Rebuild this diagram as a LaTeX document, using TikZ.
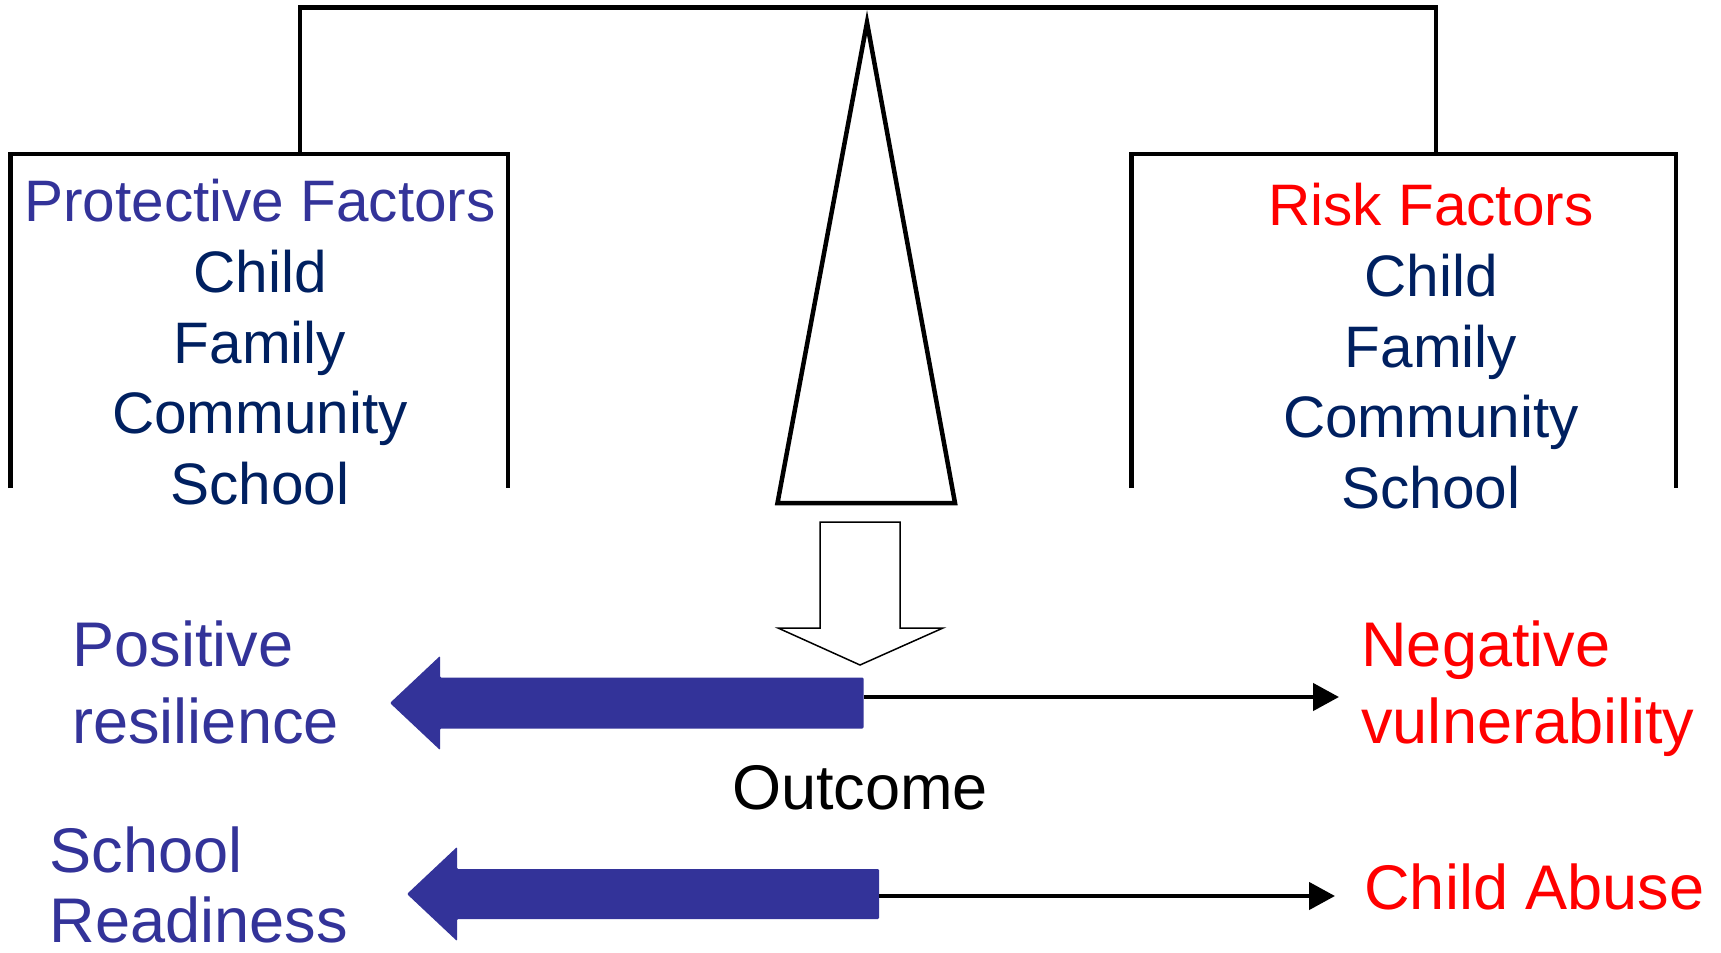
\documentclass[tikz,border=0pt]{standalone}
\usepackage{fontspec}
\setmainfont{Liberation Sans}
\usetikzlibrary{arrows.meta, positioning}

\definecolor{factorblue}{RGB}{51,51,153}
\definecolor{factornavy}{RGB}{0,32,96}
\definecolor{riskred}{RGB}{255,0,0}

\begin{document}
\begin{tikzpicture}[
  frame/.style={line width=0.09cm, black},
  head/.style={font=\fontsize{33.3}{40}\selectfont, inner sep=0pt, anchor=base},
  factor/.style={head, text=factornavy},
  result/.style={font=\fontsize{35.9}{43}\selectfont, inner sep=0pt, anchor=base west},
  bigarrow/.style={fill=factorblue, draw=none, rounded corners=0.6pt},
  thinarrow/.style={-{Triangle[length=0.52cm, width=0.54cm]}, line width=0.09cm},
]
\useasboundingbox (0,0) rectangle (34.42,-19.06);

% Balance beam and both pans
\draw[frame] (6.0,-3.08) -- (6.0,-0.154) -- (28.72,-0.154) -- (28.72,-3.08);
\draw[frame] (0.21,-9.76) -- (0.21,-3.08) -- (10.16,-3.08) -- (10.16,-9.76);
\draw[frame] (22.63,-9.76) -- (22.63,-3.08) -- (33.52,-3.08) -- (33.52,-9.76);

% Fulcrum
\draw[frame] (17.34,-0.45) -- (19.1,-10.06) -- (15.55,-10.06) -- cycle;

% Hollow arrow down to the outcome line
\draw[line width=0.03cm, fill=white] (16.4,-10.44) -- (18.0,-10.44) -- (18.0,-12.56)
  -- (18.86,-12.56) -- (17.2,-13.3) -- (15.56,-12.56) -- (16.4,-12.56) -- cycle;

% Protective factors
\node[head, text=factorblue] (pfhead) at (5.2,-4.44) {Protective Factors};
\node[factor] (pf1) at (5.2,-5.85) {Child};
\node[factor] (pf2) at (5.2,-7.26) {Family};
\node[factor] (pf3) at (5.2,-8.67) {Community};
\node[factor] (pf4) at (5.2,-10.08) {School};

% Risk factors
\node[head, text=riskred] (rfhead) at (28.62,-4.52) {Risk Factors};
\node[factor] (rf1) at (28.62,-5.93) {Child};
\node[factor] (rf2) at (28.62,-7.34) {Family};
\node[factor] (rf3) at (28.62,-8.75) {Community};
\node[factor] (rf4) at (28.62,-10.16) {School};

% Outcome arrows
\coordinate (mid1) at (17.27,-13.94);
\coordinate (mid2) at (17.58,-17.92);
\coordinate (end1) at (26.78,-13.94);
\coordinate (end2) at (26.70,-17.92);

\fill[bigarrow] (17.27,-13.55) -- (8.8,-13.55) -- (8.8,-13.12) -- (7.8,-14.06)
  -- (8.8,-15.0) -- (8.8,-14.57) -- (17.27,-14.57) -- cycle;
\fill[bigarrow] (17.58,-17.38) -- (9.14,-17.38) -- (9.14,-16.94) -- (8.14,-17.88)
  -- (9.14,-18.82) -- (9.14,-18.38) -- (17.58,-18.38) -- cycle;

\draw[thinarrow] (mid1) -- (end1);
\draw[thinarrow] (mid2) -- (end2);

\node[result, text=factorblue] (pos) at (1.44,-13.32) {Positive};
\node[result, text=factorblue] (res) at (1.44,-14.86) {resilience};
\node[result, text=riskred] (neg) at (27.22,-13.32) {Negative};
\node[result, text=riskred] (vul) at (27.22,-14.86) {vulnerability};
\node[result, anchor=base] (outc) at (17.2,-16.18) {Outcome};
\node[result, text=factorblue] (sch) at (0.99,-17.44) {School};
\node[result, text=factorblue, text depth=0pt] (rdy) at (0.99,-18.84) {Readiness};
\node[result, text=riskred] (abuse) at (27.28,-18.18) {Child Abuse};
\end{tikzpicture}
\end{document}
